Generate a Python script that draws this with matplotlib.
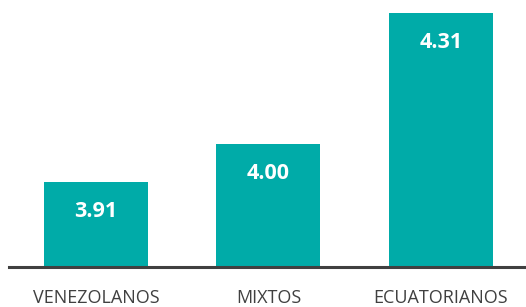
import matplotlib
matplotlib.use("Agg")
import matplotlib.pyplot as plt

categories = ["VENEZOLANOS", "MIXTOS", "ECUATORIANOS"]
values = [3.91, 4.00, 4.31]

bar_color = "#00ABA8"
text_color = "#404040"

plt.rcParams['font.family'] = ['Open Sans', 'DejaVu Sans']

fig = plt.figure(figsize=(5.26, 3.07), dpi=100)
# axes spans from the baseline line up to the top edge
ax = fig.add_axes([9 / 526, 40.5 / 307, 517 / 526, 266.5 / 307])

x = range(len(categories))
bars = ax.bar(x, values, width=0.603, color=bar_color, zorder=2)

ax.set_xlim(-0.504, 2.493)
ax.set_ylim(3.71, 3.71 + 266.5 / 422.5)

for b, v in zip(bars, values):
    ax.annotate(f"{v:.2f}", (b.get_x() + b.get_width() / 2, v),
                xytext=(0, -21), textcoords="offset points",
                ha="center", va="center", color="white",
                fontsize=15.5, fontweight="bold")

for spine in ["top", "right", "left"]:
    ax.spines[spine].set_visible(False)
ax.spines["bottom"].set_color(text_color)
ax.spines["bottom"].set_linewidth(2.2)
ax.spines["bottom"].set_zorder(3)

ax.set_yticks([])
ax.set_xticks(list(x))
ax.set_xticklabels(categories, fontsize=13, color=text_color)
ax.tick_params(axis="x", length=0, pad=16)

fig.savefig("out.png", dpi=100)
